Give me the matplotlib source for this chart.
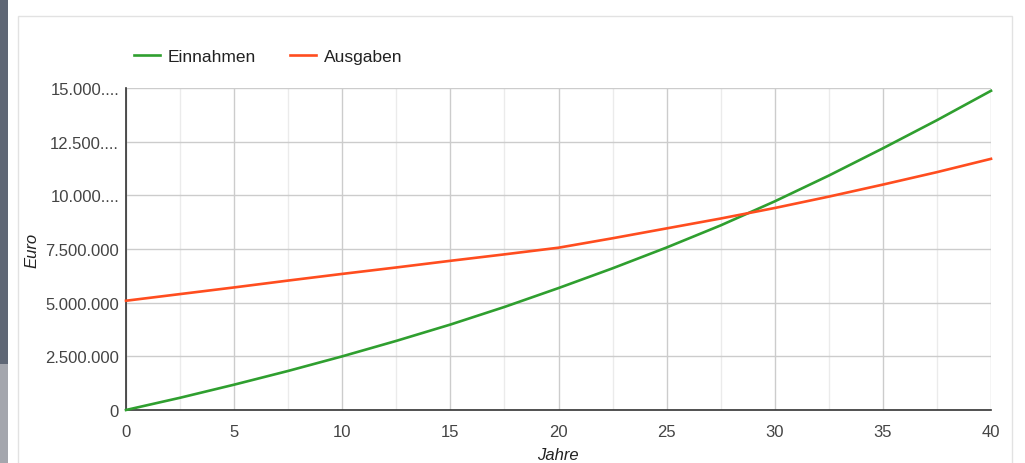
import matplotlib
matplotlib.use("Agg")
import matplotlib.pyplot as plt
from matplotlib.patches import Rectangle
from matplotlib.lines import Line2D
from matplotlib.ticker import FixedLocator, MultipleLocator

plt.rcParams['font.family'] = ['Liberation Sans', 'DejaVu Sans']

years = [0, 2.5, 5, 7.5, 10, 12.5, 15, 17.5, 20, 22.5, 25, 27.5, 30, 32.5, 35, 37.5, 40]
einnahmen = [0, 570000, 1180000, 1820000, 2500000, 3220000, 3980000, 4800000, 5680000,
             6600000, 7570000, 8600000, 9720000, 10920000, 12190000, 13500000, 14870000]
ausgaben = [5090000, 5400000, 5710000, 6030000, 6340000, 6640000, 6950000, 7250000, 7560000,
            8000000, 8460000, 8920000, 9410000, 9940000, 10500000, 11080000, 11700000]
y_ticks = [0, 2500000, 5000000, 7500000, 10000000, 12500000, 15000000]
y_tick_labels = ["0", "2.500.000", "5.000.000", "7.500.000", "10.000....", "12.500....", "15.000...."]
x_ticks = [0, 5, 10, 15, 20, 25, 30, 35, 40]

W, H = 1025, 464
fig = plt.figure(figsize=(W / 100, H / 100), dpi=100)
fig.patch.set_facecolor('white')

def px(x0, y0, w, h, **kw):
    # rectangle given in pixel coordinates measured from the top-left corner
    fig.patches.append(Rectangle((x0 / W, 1 - (y0 + h) / H), w / W, h / H,
                                 transform=fig.transFigure, zorder=-5, **kw))

# page background strip on the left
px(0, 0, 8, 365, facecolor='#5f6775', edgecolor='none')
px(0, 365, 8, 99, facecolor='#a4a6ad', edgecolor='none')
# card outline
px(18, 17, 994, 460, facecolor='white', edgecolor='#e2e2e2', linewidth=1.0)

ax = fig.add_axes([126 / W, 1 - 411 / H, 865 / W, 322 / H])
ax.set_facecolor('none')
ax.set_zorder(2)

green = '#2f9f2f'
red = '#ff4d1f'
ax.plot(years, einnahmen, color=green, linewidth=1.9, zorder=3, clip_on=False,
        solid_joinstyle='round')
ax.plot(years, ausgaben, color=red, linewidth=1.9, zorder=3, clip_on=False,
        solid_joinstyle='round')

ax.set_xlim(0, 40)
ax.set_ylim(0, 15000000)

ax.xaxis.set_major_locator(FixedLocator(x_ticks))
ax.xaxis.set_minor_locator(MultipleLocator(2.5))
ax.set_xticks(x_ticks)
ax.set_xticklabels([str(t) for t in x_ticks])
ax.set_yticks(y_ticks)
ax.set_yticklabels(y_tick_labels)

ax.grid(True, which='major', color='#cccccc', linewidth=1.0, zorder=0)
ax.grid(True, which='minor', axis='x', color='#ebebeb', linewidth=1.0, zorder=0)
ax.set_axisbelow(True)

for side in ('top', 'right'):
    ax.spines[side].set_visible(False)
ax.spines['left'].set_color('#333333')
ax.spines['bottom'].set_color('#333333')
ax.spines['left'].set_linewidth(1.2)
ax.spines['bottom'].set_linewidth(1.2)

ax.tick_params(which='both', length=0)
ax.tick_params(axis='x', pad=10, labelsize=12, labelcolor='#444444')
ax.tick_params(axis='y', pad=5, labelsize=12, labelcolor='#444444')

ax.set_ylabel('Euro', fontsize=12, style='italic', color='#222222', labelpad=4)
fig.text(558 / W, 1 - 463 / H, 'Jahre', ha='center', va='bottom',
         fontsize=12, style='italic', color='#222222')

handles = [Line2D([], [], color=green, linewidth=1.9),
           Line2D([], [], color=red, linewidth=1.9)]
fig.legend(handles, ['Einnahmen', 'Ausgaben'], loc='center left',
           bbox_to_anchor=(118 / W, 1 - 57 / H), ncol=2, frameon=False,
           fontsize=12.5, handlelength=1.5, handletextpad=0.45, columnspacing=2.0,
           labelcolor='#222222')

fig.savefig('out.png', dpi=100, facecolor='white')
